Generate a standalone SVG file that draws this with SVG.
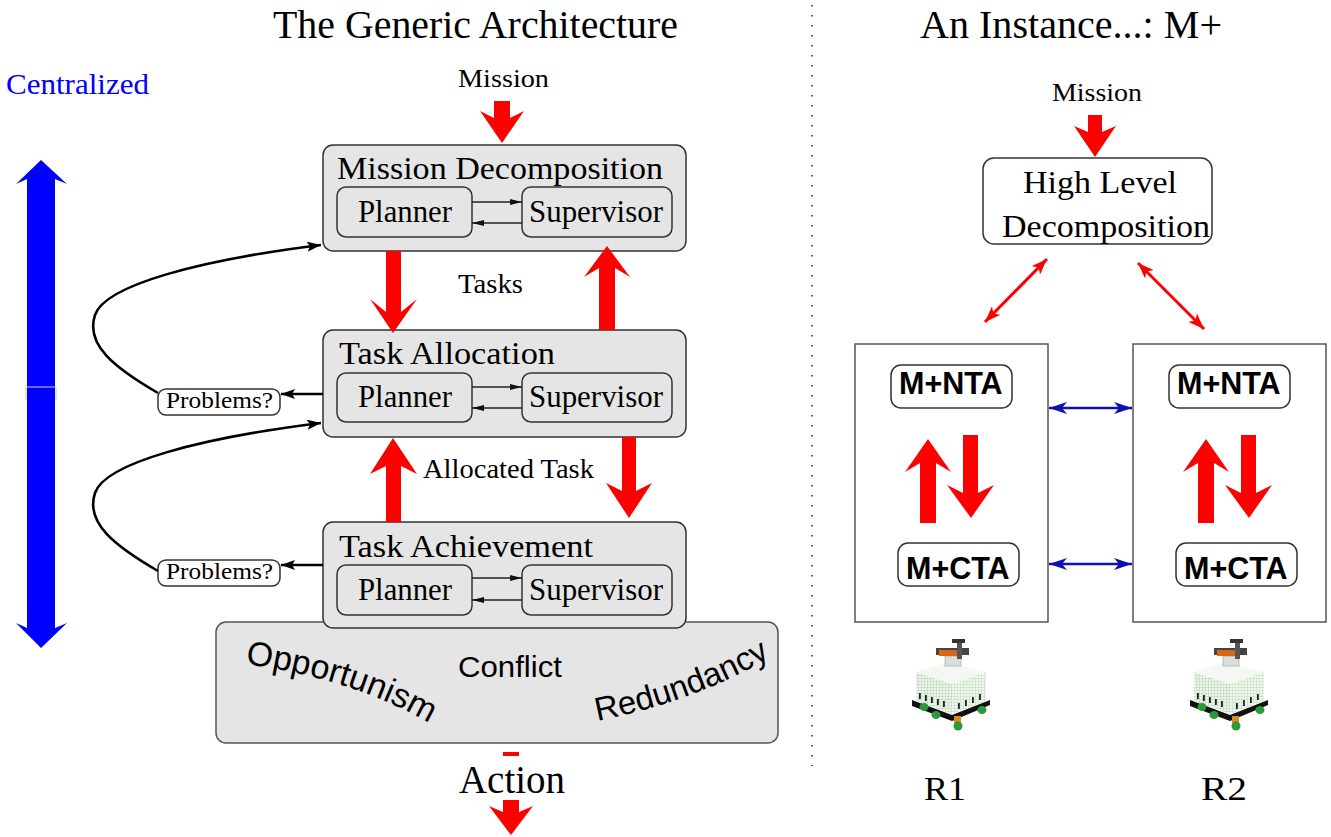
<svg xmlns="http://www.w3.org/2000/svg" width="1331" height="837" viewBox="0 0 1331 837">
<style>
.serif{font-family:"Liberation Serif","Times New Roman",serif;fill:#000}
.sans{font-family:"Liberation Sans",Arial,sans-serif;fill:#000}
.bold{font-family:"Liberation Sans",Arial,sans-serif;font-weight:bold;fill:#000}
.gbox{fill:#e5e5e5;stroke:#333;stroke-width:1.5}
.wbox{fill:#fff;stroke:#333;stroke-width:1.5}
.rbox{fill:#fff;stroke:#555;stroke-width:1.5}
.red{fill:#ff0000}
.thin{stroke:#222;stroke-width:1.3;fill:none}
.curve{stroke:#000;stroke-width:2.6;fill:none}
</style>
<defs>
<marker id="mSm" markerWidth="14" markerHeight="8" refX="12" refY="4" orient="auto" markerUnits="userSpaceOnUse"><path d="M0,1 L12,4 L0,7 z" fill="#111"/></marker>
<marker id="mBk" markerWidth="16" markerHeight="12" refX="14" refY="5" orient="auto" markerUnits="userSpaceOnUse"><path d="M0,0 L14,5 L0,10 L3,5 z" fill="#000"/></marker>
<marker id="mRd" markerWidth="18" markerHeight="12" refX="16" refY="6" orient="auto-start-reverse" markerUnits="userSpaceOnUse"><path d="M0,0 L16,6 L0,12 L4,6 z" fill="#ff0000"/></marker>
<marker id="mBl" markerWidth="20" markerHeight="12" refX="18" refY="6" orient="auto-start-reverse" markerUnits="userSpaceOnUse"><path d="M0,0 L18,6 L0,12 L5,6 z" fill="#1010b0"/></marker>
<pattern id="grid" width="3" height="3" patternUnits="userSpaceOnUse"><rect width="3" height="3" fill="#eef5ec"/><path d="M0,0 H3 M0,0 V3" stroke="#9cc49a" stroke-width="0.7"/></pattern>
<g id="robot">
<polygon points="912,700 952,715 990,700 990,705 952,721 912,706" fill="#111"/>
<polygon points="916,672 952,684 952,714 916,701" fill="url(#grid)"/>
<polygon points="952,684 986,672 986,701 952,714" fill="url(#grid)" opacity="0.85"/>
<polygon points="916,672 948,662 986,672 952,684" fill="#f4f8f2"/>
<g fill="#222">
<rect x="919" y="693" width="1.8" height="6"/><rect x="925" y="695" width="1.8" height="6"/><rect x="931" y="697" width="1.8" height="6"/><rect x="937" y="699" width="1.8" height="6"/><rect x="943" y="701" width="1.8" height="6"/>
<rect x="958" y="703" width="1.8" height="6"/><rect x="965" y="700" width="1.8" height="6"/><rect x="972" y="697" width="1.8" height="6"/><rect x="979" y="694" width="1.8" height="6"/>
</g>
<ellipse cx="924" cy="707" rx="4.5" ry="4" fill="#2a9a3a"/>
<ellipse cx="936" cy="715" rx="4.5" ry="4" fill="#2a9a3a"/>
<rect x="954" y="716" width="7" height="7" fill="#d88a20"/>
<ellipse cx="958" cy="726" rx="4.5" ry="4.5" fill="#2a9a3a"/>
<ellipse cx="982" cy="710" rx="4.5" ry="4" fill="#2a9a3a"/>
<rect x="945" y="656" width="16" height="10" fill="#ddd" stroke="#999" stroke-width="0.6"/>
<rect x="936" y="648" width="33" height="7" fill="#444"/>
<rect x="939" y="650" width="18" height="6" fill="#d8651a"/>
<rect x="957" y="640" width="5" height="19" fill="#555"/>
<rect x="952" y="639" width="13" height="4" fill="#333"/>
</g>
</defs>

<rect width="1331" height="837" fill="#fff"/>

<!-- titles -->
<text class="serif" x="273" y="38" font-size="39" textLength="405" lengthAdjust="spacingAndGlyphs">The Generic Architecture</text>
<text class="serif" x="920" y="38" font-size="39" textLength="302" lengthAdjust="spacingAndGlyphs">An Instance...: M+</text>
<text class="serif" x="6" y="94" font-size="30" textLength="143" lengthAdjust="spacingAndGlyphs" style="fill:#0000ff">Centralized</text>

<!-- separator -->
<line x1="812" y1="5" x2="812" y2="766" stroke="#000" stroke-width="1.3" stroke-dasharray="1.5 8.5"/>

<!-- centralized arrow -->
<g id="centralizedArrow">
<polygon points="41,160 67,184 55,179 55,628 67,623 41,648 16,623 27,628 27,179 16,184" fill="#0000ff"/>
<path d="M26,400 V387 H56 V400" fill="none" stroke="#d0d0d0" stroke-width="1"/>
</g>

<!-- bottom box -->
<g id="behaviours">
<rect x="216" y="622" width="562" height="121" rx="10" class="gbox" style="stroke:#555"/>
<path id="pOpp" d="M245,664 Q351,678 431,724" fill="none"/>
<path id="pRed" d="M597,721 Q693,702 769,658" fill="none"/>
<text class="sans" font-size="34"><textPath href="#pOpp">Opportunism</textPath></text>
<text class="sans" x="458" y="677" font-size="30" textLength="104" lengthAdjust="spacingAndGlyphs">Conflict</text>
<text class="sans" font-size="33"><textPath href="#pRed">Redundancy</textPath></text>
</g>

<!-- Mission decomposition -->
<g id="missionDecomposition">
<rect x="323" y="145" width="363" height="106" rx="10" class="gbox"/>
<text class="serif" x="337" y="179" font-size="31" textLength="326" lengthAdjust="spacingAndGlyphs">Mission Decomposition</text>
<g id="md-planner"><rect x="337" y="187" width="135" height="50" rx="9" class="gbox"/>
<text class="serif" x="358" y="222" font-size="31" textLength="94" lengthAdjust="spacingAndGlyphs">Planner</text></g>
<g id="md-supervisor"><rect x="522" y="187" width="150" height="50" rx="9" class="gbox"/>
<text class="serif" x="529" y="222" font-size="31" textLength="134" lengthAdjust="spacingAndGlyphs">Supervisor</text></g>
</g>

<!-- Task allocation -->
<g id="taskAllocation">
<rect x="323" y="330" width="363" height="107" rx="10" class="gbox"/>
<text class="serif" x="339" y="364" font-size="31" textLength="216" lengthAdjust="spacingAndGlyphs">Task Allocation</text>
<g id="ta-planner"><rect x="337" y="373" width="135" height="49" rx="9" class="gbox"/>
<text class="serif" x="358" y="407" font-size="31" textLength="94" lengthAdjust="spacingAndGlyphs">Planner</text></g>
<g id="ta-supervisor"><rect x="522" y="373" width="150" height="49" rx="9" class="gbox"/>
<text class="serif" x="529" y="407" font-size="31" textLength="134" lengthAdjust="spacingAndGlyphs">Supervisor</text></g>
</g>

<!-- Task achievement -->
<g id="taskAchievement">
<rect x="323" y="522" width="363" height="106" rx="10" class="gbox"/>
<text class="serif" x="339" y="557" font-size="31" textLength="254" lengthAdjust="spacingAndGlyphs">Task Achievement</text>
<g id="tach-planner"><rect x="337" y="565" width="135" height="50" rx="9" class="gbox"/>
<text class="serif" x="358" y="600" font-size="31" textLength="94" lengthAdjust="spacingAndGlyphs">Planner</text></g>
<g id="tach-supervisor"><rect x="522" y="565" width="150" height="50" rx="9" class="gbox"/>
<text class="serif" x="529" y="600" font-size="31" textLength="134" lengthAdjust="spacingAndGlyphs">Supervisor</text></g>
</g>

<!-- Problems boxes -->
<g id="problems1"><rect x="158" y="389" width="122" height="26" rx="8" class="wbox"/>
<text class="serif" x="166" y="408" font-size="23" textLength="107" lengthAdjust="spacingAndGlyphs">Problems?</text></g>
<g id="problems2"><rect x="158" y="560" width="122" height="26" rx="8" class="wbox"/>
<text class="serif" x="166" y="579" font-size="23" textLength="107" lengthAdjust="spacingAndGlyphs">Problems?</text></g>

<!-- right side nodes -->
<g id="highLevel">
<rect x="983" y="158" width="229" height="86" rx="11" class="wbox"/>
<text class="serif" x="1023" y="193" font-size="31" textLength="154" lengthAdjust="spacingAndGlyphs">High Level</text>
<text class="serif" x="1002" y="237" font-size="31" textLength="208" lengthAdjust="spacingAndGlyphs">Decomposition</text>
</g>
<g id="robot1">
<rect x="855" y="344" width="193" height="278" class="rbox"/>
<g id="r1-nta"><rect x="891" y="365" width="121" height="43" rx="10" class="wbox"/>
<text class="bold" x="899" y="394" font-size="30.5">M+NTA</text></g>
<g id="r1-cta"><rect x="898" y="543" width="121" height="43" rx="10" class="wbox"/>
<text class="bold" x="906" y="579" font-size="30.5">M+CTA</text></g>
<polygon class="red" points="920,523 936,523 936,463 951,472 928,439 905,472 920,463"/>
<polygon class="red" points="963,435 978,435 978,493 994,485 971,518 947,485 963,493"/>
<use href="#robot"/>
<text class="serif" x="924" y="800" font-size="33" textLength="42" lengthAdjust="spacingAndGlyphs">R1</text>
</g>
<g id="robot2">
<rect x="1133" y="344" width="193" height="278" class="rbox"/>
<g id="r2-nta"><rect x="1169" y="365" width="121" height="43" rx="10" class="wbox"/>
<text class="bold" x="1177" y="394" font-size="30.5">M+NTA</text></g>
<g id="r2-cta"><rect x="1176" y="543" width="121" height="43" rx="10" class="wbox"/>
<text class="bold" x="1184" y="579" font-size="30.5">M+CTA</text></g>
<polygon class="red" points="1198,523 1214,523 1214,463 1229,472 1206,439 1183,472 1198,463"/>
<polygon class="red" points="1241,435 1256,435 1256,493 1272,485 1249,518 1225,485 1241,493"/>
<use href="#robot" transform="translate(278,0)"/>
<text class="serif" x="1201" y="800" font-size="33" textLength="46" lengthAdjust="spacingAndGlyphs">R2</text>
</g>

<!-- labels -->
<text class="serif" x="458" y="87" font-size="26" textLength="91" lengthAdjust="spacingAndGlyphs">Mission</text>
<text class="serif" x="458" y="293" font-size="27" textLength="65" lengthAdjust="spacingAndGlyphs">Tasks</text>
<text class="serif" x="423" y="478" font-size="27" textLength="171" lengthAdjust="spacingAndGlyphs">Allocated Task</text>
<text class="serif" x="459" y="793" font-size="39" textLength="106" lengthAdjust="spacingAndGlyphs">Action</text>
<text class="serif" x="1052" y="101" font-size="26" textLength="90" lengthAdjust="spacingAndGlyphs">Mission</text>

<!-- connectors -->
<g id="connectors">
<polygon class="red" points="494,101 510,101 510,118 524,111 502,143 480,111 494,118"/>
<polygon class="red" points="386,251 401,251 401,312 417,299 393,333 370,299 386,312"/>
<polygon class="red" points="599,330 615,330 615,268 630,277 607,246 584,277 599,268"/>
<polygon class="red" points="386,522 401,522 401,466 417,474 393,438 370,474 386,466"/>
<polygon class="red" points="622,437 636,437 636,491 652,483 629,518 606,483 622,491"/>
<rect class="red" x="503" y="752" width="16" height="4"/>
<polygon class="red" points="503,800 519,800 519,812 533,806 511,835 489,806 503,812"/>
<polygon class="red" points="1088,115 1102,115 1102,132 1116,126 1095,157 1074,126 1088,132"/>

<line x1="472" y1="202" x2="522" y2="202" class="thin" marker-end="url(#mSm)"/>
<line x1="522" y1="223" x2="472" y2="223" class="thin" marker-end="url(#mSm)"/>
<line x1="472" y1="387" x2="522" y2="387" class="thin" marker-end="url(#mSm)"/>
<line x1="522" y1="408" x2="472" y2="408" class="thin" marker-end="url(#mSm)"/>
<line x1="472" y1="578" x2="522" y2="578" class="thin" marker-end="url(#mSm)"/>
<line x1="522" y1="600" x2="472" y2="600" class="thin" marker-end="url(#mSm)"/>

<line x1="323" y1="394" x2="281" y2="394" class="curve" marker-end="url(#mBk)"/>
<line x1="323" y1="565" x2="281" y2="565" class="curve" marker-end="url(#mBk)"/>
<path d="M158,393 C115,368 85,345 95,315 C105,285 200,260 321,245" class="curve" marker-end="url(#mBk)"/>
<path d="M158,571 C115,546 85,523 95,493 C105,463 200,438 321,423" class="curve" marker-end="url(#mBk)"/>

<line x1="985" y1="322" x2="1047" y2="259" stroke="#ff0000" stroke-width="3" marker-start="url(#mRd)" marker-end="url(#mRd)"/>
<line x1="1138" y1="263" x2="1204" y2="329" stroke="#ff0000" stroke-width="3" marker-start="url(#mRd)" marker-end="url(#mRd)"/>
<line x1="1049" y1="408" x2="1132" y2="408" stroke="#1010b0" stroke-width="2.5" marker-start="url(#mBl)" marker-end="url(#mBl)"/>
<line x1="1049" y1="564" x2="1132" y2="564" stroke="#1010b0" stroke-width="2.5" marker-start="url(#mBl)" marker-end="url(#mBl)"/>
</g>
</svg>
